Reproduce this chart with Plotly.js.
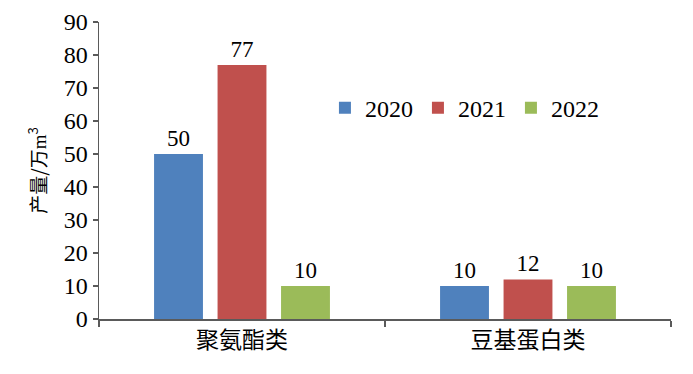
<!DOCTYPE html>
<html>
<head>
<meta charset="utf-8">
<script src="https://cdn.plot.ly/plotly-3.0.1.min.js"></script>
<style>html,body{margin:0;padding:0;background:#fff;}#chart{width:693px;height:374px;}</style>
</head>
<body>
<div id="chart"></div>
<script>
var categories = ['聚氨酯类', '豆基蛋白类'];
var seriesNames = ['2020', '2021', '2022'];
var values2020 = [50, 10];
var values2021 = [77, 12];
var values2022 = [10, 10];
var colors = ['#4F81BD', '#C0504D', '#9BBB59'];
var yTickVals = [0, 10, 20, 30, 40, 50, 60, 70, 80, 90];

var FONT = 'Liberation Serif, "Times New Roman", "Noto Sans CJK SC", serif';
var allVals = [values2020, values2021, values2022];
var traces = allVals.map(function (v, i) {
  return {
    type: 'bar',
    name: seriesNames[i],
    x: categories,
    y: v,
    marker: {color: colors[i]},
    text: v.map(String),
    textposition: 'outside',
    textfont: {family: FONT, size: 23, color: '#000'},
    cliponaxis: false,
    hoverinfo: 'none'
  };
});

var layout = {
  width: 693, height: 374,
  margin: {l: 99, r: 22, t: 22, b: 55},
  paper_bgcolor: '#fff', plot_bgcolor: '#fff',
  font: {family: FONT, size: 22, color: '#000'},
  barmode: 'group',
  bargap: 0.334,
  bargroupgap: 0.23,
  showlegend: true,
  legend: {
    orientation: 'h', x: 0.395, y: 0.71, xanchor: 'left', yanchor: 'middle',
    font: {family: FONT, size: 24, color: '#000'},
    bgcolor: 'rgba(0,0,0,0)', itemwidth: 30
  },
  xaxis: {
    type: 'category',
    showline: true, linecolor: '#5a5a5a', linewidth: 1.5,
    ticks: 'outside', tickson: 'boundaries', ticklen: 6, tickcolor: '#5a5a5a', tickwidth: 1.5,
    tickfont: {family: '"Noto Sans CJK SC", serif', size: 23, color: '#000'},
    showgrid: false, zeroline: false
  },
  yaxis: {
    range: [0, 90], tickvals: yTickVals, ticktext: yTickVals.map(String),
    showline: true, linecolor: '#5a5a5a', linewidth: 1.5,
    ticks: 'outside', ticklen: 5, tickcolor: '#5a5a5a', tickwidth: 1.5,
    tickfont: {family: FONT, size: 24, color: '#000'},
    showgrid: false, zeroline: false,
    title: {text: '产量/万<span style="font-family:Liberation Serif">m</span><sup>3</sup>', font: {family: '"Noto Sans CJK SC", serif', size: 19, color: '#000'}, standoff: 12}
  }
};

Plotly.newPlot('chart', traces, layout, {staticPlot: true, displayModeBar: false});
</script>
</body>
</html>
